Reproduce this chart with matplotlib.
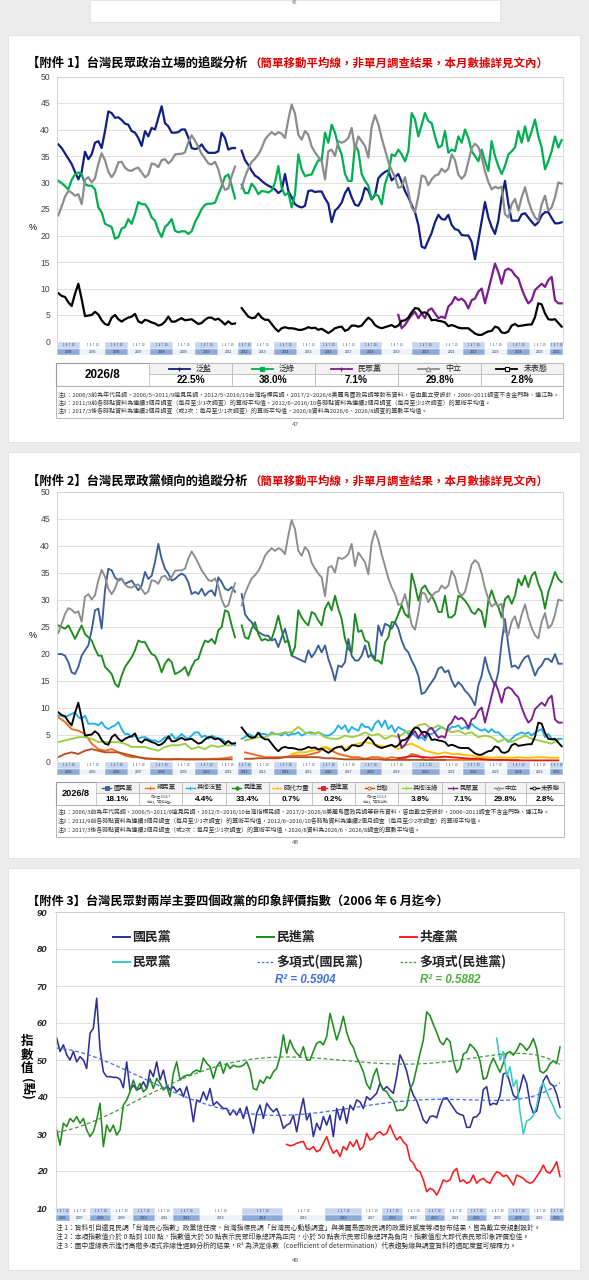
import numpy as np
import matplotlib
matplotlib.use("Agg")
import matplotlib.pyplot as plt
from matplotlib.patches import Rectangle

plt.rcParams["font.family"] = ["Noto Sans CJK TC", "DejaVu Sans"]
NUM_FONT = ["Liberation Sans", "Noto Sans CJK TC"]

nan = float("nan")

# ---------------------------------------------------------------------------
# 附件1 / 附件2: values, one per survey step (152 steps).
# nan = break between survey sources (2011 -> 2012).
# ---------------------------------------------------------------------------
BLUE_CAMP = [
    37.2, 36.5, 35.5, 34.5, 33.5, 32, 30.6, 32, 35.8, 34.4,
    35.3, 37.5, 37.8, 36.5, 39.7, 43.4, 43.1, 42.2, 42.3, 41.8,
    41.1, 40.9, 39.7, 39.4, 38.4, 36.9, 39.7, 38.7, 40.3, 40,
    42.2, 44.4, 41.2, 40.6, 39.4, 39.4, 39.5, 40, 40, 38.5,
    36.5, 36.3, 36.5, 37.2, 36.2, 35.6, 35.6, 35.6, 35.9, 39.4,
    38.4, 36.2, 36.5, 36.5, nan, 36, 34.2, 33.3, 32.2, 31.3,
    30.9, 30.3, 29.8, 29.4, 29.1, 28.7, 28, 28.5, 31.6, 28.4,
    27.2, 25.9, 25.5, 25.3, 25.6, 28.4,
    28.5, 28.2, 28.3, 28.3, 27, 26, 22.5, 24.7, 25.3, 26.2,
    28, 29, 27.2, 25.8, 25.6, 26.8, 29, 28.5, 26.8, 27.6,
    30.8, 31.5, 32, 32.3, 30.4, 31, 31.6, 30.1, 28.4, 27.2,
    25.8, 24.4, 22, 17.9, 17.6, 19.1, 20.5, 22.5, 23.9, 23.1,
    23, 23.9, 22, 21.2, 21, 20.1, 20, 20, 18.8, 15.5,
    19.1, 22.8, 26.3, 23.4, 21.6, 20.3, 22.8, 27.2, 30.3, 26,
    22.8, 22.8, 22.8, 24, 24.2, 23.4, 22.6, 21.9, 22.5, 23.8,
    24.4, 24.4, 23.3, 22.3, 22.3, 22.5,
]
GREEN_CAMP = [
    30.3, 29.9, 29.3, 28.7, 30.5, 31.5, 31.9, 31.6, 29.7, 29.4,
    29.4, 28.7, 25.3, 24.4, 22.2, 21.9, 21.6, 19.4, 19.7, 21.3,
    21.6, 23.1, 22.2, 24.1, 26.3, 25.9, 25.9, 25, 23.4, 22.8,
    20.9, 19.7, 21.6, 22.2, 23.1, 20.9, 20.6, 20.8, 20.8, 20.3,
    20.8, 22.5, 23.7, 25, 25.8, 26, 26, 26.2, 27.8, 29.3,
    31.1, 31.5, 29.4, 27, nan, 29.6, 28, 28, 29.8, 29,
    27.8, 28.4, 28.3, 28.1, 28.5, 30, 33.1, 29, 27.6, 28.1,
    25.3, 27.8, 35.3, 32.5, 31.2, 31.4,
    31.5, 33, 34.2, 34.2, 39.4, 37.5, 40.9, 39.4, 36.9, 35.3,
    31.6, 30.3, 30.3, 37.2, 35.9, 31.6, 30.3, 29.4, 26.9, 27.8,
    27.5, 25.9, 29.7, 31.6, 35.3, 35, 36.2, 35.3, 34, 35.9,
    43.1, 41.9, 38.7, 40.9, 43.1, 41.6, 41.2, 38.7, 36.6, 36.9,
    39.7, 35.6, 36.2, 35.9, 38.7, 37.5, 40, 38.4, 35.9, 35,
    34, 36.2, 34, 32.2, 37.8, 35, 33.1, 31.6, 33.1, 35.3,
    35.9, 36.6, 39.7, 37.5, 40.6, 37.8, 39.7, 41.9, 38.7, 36.6,
    32.5, 34, 35.9, 38.7, 36.6, 38,
]
NEUTRAL = [
    23.8, 25.5, 27.3, 28.4, 28.1, 27.5, 27.8, 25.9, 30.5, 31,
    30, 30.8, 33.5, 35.5, 34.2, 32, 31, 32, 33.8, 33.9,
    32.8, 32.3, 32.2, 32.6, 32.8, 31.9, 31, 31.5, 33.6, 33.4,
    32.9, 34.2, 34.4, 33.6, 34.2, 35.3, 35.4, 35.4, 35.7, 37.6,
    38.9, 37.9, 36.7, 35.4, 34.5, 33.6, 33.4, 33.9, 32.5, 30,
    28.6, 28.9, 31.2, 33, nan, 28.9, 31.1, 32.6, 33.9, 34.5,
    35.3, 36.5, 38.1, 38.9, 39.5, 39, 39.5, 39.2, 38.4, 41.9,
    44.7, 43, 39, 38.1, 39.7, 39,
    36.8, 35.7, 34.8, 34.1, 30.6, 35.9, 36.2, 35, 37.8, 37.5,
    37.8, 38.4, 40.3, 36.2, 38.7, 37.8, 36.9, 34.7, 40.5, 42.7,
    41, 38.4, 36.2, 33.9, 32.3, 31, 29, 29.2, 31, 28.3,
    25.3, 24.4, 27.4, 31.3, 31.1, 29.5, 30.6, 31.3, 31.5, 32.6,
    32, 32.6, 35.3, 34.2, 31.5, 30.7, 31.4, 33.9, 36.5, 37.3,
    36.7, 34.8, 32.1, 30.1, 28.7, 29.2, 28.9, 29.2, 24, 23.4,
    25.9, 26.9, 24.7, 27.2, 29.1, 26.6, 24.7, 23.4, 22.8, 25.9,
    27.5, 24.7, 25.3, 27.2, 30, 29.8,
]
UNDECIDED = [
    9.1, 8.6, 8.4, 7.4, 6.7, 9, 10.9, 8, 4.8, 4.9,
    5, 5.6, 5.1, 4, 3.3, 3.1, 4.5, 5, 4.2, 3.75,
    4.2, 4.5, 4.7, 5.2, 3.8, 3.5, 4.1, 3.9, 3.6, 3.4,
    3, 3.2, 3.75, 4.7, 3.75, 3.75, 4.1, 4.4, 4, 4.1,
    4.2, 3.75, 3.3, 3.5, 4.1, 4.5, 4.5, 4.1, 4.3, 3.8,
    3.2, 3.8, 3.3, 3.4, nan, 6.3, 5.5, 4.7, 4.4, 4.5,
    5.3, 4.5, 4.1, 4.1, 3.3, 2.5, 1.9, 2.5, 2.7, 2.5,
    2.5, 2.4, 2.2, 2.2, 2.4, 2.7,
    2.5, 2.6, 2.2, 2.4, 2, 1.6, 2, 2.5, 2.7, 2.8,
    2, 2.3, 3, 3, 2.8, 3, 3.8, 4.5, 4, 3.1,
    2.7, 2.5, 2.7, 2.9, 3.1, 2.7, 3, 3.9, 4, 4.5,
    5.5, 6.3, 6.2, 5.4, 5.5, 5.1, 4, 4.1, 3.9, 3.8,
    3.6, 2.9, 3.1, 2.9, 2.6, 2.5, 2.5, 2.5, 2, 1.5,
    1.25, 1.25, 1.6, 1.9, 2, 2.8, 2.6, 1.7, 1.6, 1.9,
    3, 3.3, 2.9, 3, 3.1, 3.2, 3.2, 4.6, 7.2, 7,
    5.3, 4.2, 4.1, 4.2, 3.5, 2.8,
]
TPP_START = 102
TPP = [
    5, 2.5, 3.1, 4.1, 5, 5.6, 4.4, 5.3, 4.4, 5.9,
    6.25, 5.3, 4.4, 4.7, 4.4, 6.6, 7.2, 8.4, 7.8, 8.1,
    7.5, 6.25, 7.8, 8.1, 9.4, 10, 7.2, 9.7, 12.2, 14.7,
    13.1, 10.9, 13.4, 13.75, 13.4, 12.5, 11.9, 10, 8.4, 7.2,
    7.8, 9.7, 10.3, 10.9, 10.3, 11.6, 12.2, 7.8, 7.2, 7.2,
]

# 附件2 party series (fine grid, 152 steps)
KMT = [
    19.9, 19.9, 19.6, 18.4, 16.5, 16.2, 17.5, 19.6, 20.6, 21.5,
    24.3, 28, 28.3, 24.6, 31.7, 35.7, 35.4, 34.1, 33.5, 33.8,
    32.9, 33.2, 33.5, 32.6, 31.7, 32.6, 35.1, 33.8, 34.4, 36.9,
    40.3, 37.5, 35.7, 34.8, 33.5, 33.8, 34.4, 34.8, 34.4, 33.2,
    31, 31.4, 31, 32, 30.7, 31.4, 31.7, 30.7, 34.1, 33.2,
    32, 31.7, 32.3, 31.4, nan, 31, 27.3, 26.4, 25.8, 24.6,
    24, 23.6, 23.3, 23.3, 22.4, 22.7, 21.2, 23, 24.6, 22.1,
    19.6, 19.3, 19, 18.7, 18.4, 20.6,
    19.3, 20.2, 21.5, 20.2, 21.5, 19, 17.2, 15, 17.8, 17.5,
    18.4, 22.7, 19.6, 18.7, 18.7, 19.6, 21.5, 19.3, 19.9, 19,
    25.2, 23.3, 25.5, 25.2, 24.6, 25.8, 24.6, 22.4, 20.9, 20.2,
    18.7, 17.5, 15.9, 12.5, 12.8, 13.8, 14.7, 15.6, 17.2, 17.5,
    16.5, 16.9, 15, 13.8, 14.7, 14.1, 13.1, 12.5, 11.6, 10.4,
    14.1, 15.9, 19.3, 16.9, 15.3, 14.1, 16.5, 22.1, 26.4, 21.5,
    17.5, 17.8, 17.2, 18.4, 19.3, 19.6, 17.8, 15.9, 17.2, 17.8,
    19, 19, 18.4, 19.9, 18.1, 18.1,
]
DPP = [
    25.2, 24.9, 24.6, 25.2, 24, 22.7, 24, 25.2, 23.6, 23,
    22.4, 20.9, 19.6, 19.6, 17.5, 16.9, 16.2, 14.4, 13.8, 15.9,
    17.5, 18.4, 19.3, 20.6, 22.4, 22.1, 22.1, 20.9, 19.9, 19.6,
    18.4, 16.5, 18.1, 19, 18.4, 16.2, 16.5, 16.9, 17.5, 15.9,
    17.5, 18.7, 19, 20.9, 22.4, 22.1, 22.7, 21.8, 24.3, 24.9,
    28, 27.7, 25.2, 23, nan, 25.2, 23, 22.7, 24.6, 25.8,
    23.6, 22.4, 22.7, 22.4, 22.7, 24.6, 27, 24.3, 22.1, 22.4,
    19.6, 21.2, 28, 26.7, 25.8, 25.2,
    27.7, 27.3, 26.1, 25.2, 28.3, 29.5, 28, 30.7, 28.3, 26.4,
    22.7, 20.9, 20.2, 27.3, 24, 24.3, 22.4, 22.1, 19.6, 18.7,
    18.7, 18.1, 22.1, 23, 25.8, 25.8, 27.3, 28.9, 27.3, 26.7,
    34.8, 32.6, 29.8, 32, 32.6, 31.4, 30.7, 29.5, 27.7, 27.7,
    30.7, 26.7, 26.7, 27.3, 30.7, 30.4, 29.8, 28.9, 27.7, 27.3,
    28.3, 27.7, 24.9, 29.8, 31.7, 29.8, 28.6, 26.7, 30.1, 30.7,
    29.2, 30.7, 33.8, 32.6, 34.4, 32.3, 34.4, 35.1, 32.9, 31.4,
    28.3, 31.4, 33.2, 35.1, 33.8, 33.2,
]
OTHER_BLUE = [
    8.5, 8.5, 8.2, 8.5, 8.8, 9.1, 8.2, 7.9, 8.5, 7,
    7, 7, 6.7, 7.3, 6.4, 6, 6.4, 6.7, 7.3, 6,
    5.1, 5.1, 4.5, 4.8, 4.2, 4.5, 4.5, 4.2, 3.9, 3.9,
    3.6, 3.9, 4.5, 4.2, 5.1, 4.2, 4.5, 5.1, 4.5, 4.2,
    4.8, 5.4, 5.4, 4.5, 4.8, 4.2, 4.8, 4.5, 4.2, 4.2,
    3.6, 3.6, 3.3, 3, nan, 4.2, 4.5, 5.1, 4.8, 4.5,
    5.4, 5.1, 5.1, 4.8, 5.4, 5.1, 5.1, 4.8, 5.4, 4.8,
    5.1, 5.1, 5.4, 4.8, 5.1, 5.4,
    5.4, 5.1, 5.4, 5.1, 4.8, 4.8, 5.1, 5.7, 6.7, 6,
    6.7, 5.4, 6.4, 6, 5.7, 7, 6.4, 6.4, 5.7, 7,
    7.6, 6.4, 7.6, 6, 6.7, 5.4, 6.4, 6, 5.7, 5.1,
    5.4, 4.8, 4.2, 4.5, 3.9, 5.1, 5.1, 5.4, 6, 6.4,
    6, 5.7, 6.4, 6.4, 6.7, 6, 6.4, 6, 7, 6.4,
    6, 5.7, 6, 5.4, 6, 5.4, 5.4, 4.8, 4.2, 3.6,
    4.2, 4.8, 5.1, 5.4, 5.1, 5.4, 4.8, 5.4, 5.7, 6,
    4.5, 5.1, 4.2, 3.9, 4.2, 4.2,
]
# small parties, every second survey step (76 values)
OTHER_GREEN = [
    3.6, 3.9, 4.2, 4.5, 4.5, 4.2, 3.6, 3.6, 3.6, 3.6,
    3.3, 2.7, 2.7, 2.7, 2.3, 2, 2.7, 3, 3, 3.3,
    2.3, 2.7, 2.3, 3, 2.7, 3, 3, nan, 3.9, 4.2,
    4.5, 4.5, 5.1, 5.1, 5.4, 5.4, 6.4, 5.4,
    5.1, 5.4, 4.5, 4.2, 4.2, 4.8, 4.5, 4.8, 5.4, 4.8,
    5.1, 4.2, 4.8, 4.5, 5.4, 5.7, 6.7, 7, 6, 6.7,
    6, 5.4, 5.7, 5.1, 5.4, 4.5, 4.8, 4.5, 3.6, 4.2,
    3.6, 4.2, 4.8, 4.2, 3.9, 3.6, 3.3, 3.9,
]
PFP = [
    8.2, 7.3, 6, 5.7, 5.1, 3.3, 2.3, 2, 2.3, 1.7,
    1.1, 0.8, 0.8, 0.5, 0.5, 0.5, 0.4, 0.4, 0.5, 0.4,
    0.4, 0.4, 0.4, 0.5, 0.5, 0.6, 0.8, nan, 1.7, 1.4,
    1.1, 0.8, 0.8, 0.8, 0.8, 1.1, 1.1, 1.1,
    1.4, 1.7, 2.7, 2, 1.4, 1.1, 0.8, 0.8, 0.5, 0.8,
    0.8, 0.5, 0.8, 0.6, 0.5, 1.4, 1.1, 0.3, 0.3, 0.3,
    0.3, 0.3, 0.3, 0.3, 0.3, 0.3, 0.3, 0.3, 0.3, 0.3,
    0.3, 0.3, nan, nan, nan, nan, nan, nan,
]
NPP = [nan] * 35 + [
    1.4, 1.7, 1.7,
    2, 2.3, 2.7, 2.3, 2.7, 2.3, 3, 3.3, 3.6, 3.3,
    3, 2.7, 3, 2.3, 3, 3.3, 2.7, 2, 1.7, 1.4,
    1.7, 1.4, 1.4, 1.2, 1.1, 0.8, 0.8, 0.7, 0.8, 0.7,
    0.7, 0.8, 0.7, 0.7, 0.8, 0.8, 0.7, 0.7,
]
TSP = [nan] * 51 + [
    0.6, 0.8, 1, 0.9, 0.8, 0.7, 0.8, 0.9, 0.8, 0.7,
    0.6, 0.5, 0.5, 0.4, 0.3, 0.3, 0.3, 0.2, 0.2, 0.2,
    0.2, 0.2, 0.2, 0.2, 0.2,
]
TSU = [
    0.8, 1.4, 1.7, 1.4, 2, 2.3, 2, 1.7, 1.7, 1.7,
    1.4, 1.1, 0.8, 0.6, 0.5, 0.4, 0.4, 0.4, 0.4, 0.4,
    0.4, 0.4, 0.4, 0.4, 0.4, 0.4, 0.4, nan, 0.5, 0.5,
    0.6, 0.6, 0.6, 0.6, 0.8, 0.8, 0.8, 0.8,
    0.8, 0.8, 0.6, 0.6, 0.5, 0.4, 0.4, 0.4, 0.4, 0.4,
    0.4, 0.3, 0.3, 0.3, 0.3, 0.3, 0.3, 0.3, 0.3, 0.3,
    0.3,
] + [nan] * 17

P1_NAMES = ["泛藍", "泛綠", "民眾黨", "中立", "未表態"]
P1_LATEST = [22.5, 38.0, 7.1, 29.8, 2.8]
P2_NAMES = ["國民黨", "親民黨", "其他泛藍", "民進黨", "時代力量", "基進黨",
            "台聯", "其他泛綠", "民眾黨", "中立", "未表態"]
P2_LATEST = [18.1, None, 4.4, 33.4, 0.7, 0.2, None, 3.8, 7.1, 29.8, 2.8]
P2_NOTES = {1: "統計至 2024/7\n後併入「其他泛藍」", 6: "統計至 2021/4\n後併入「其他泛綠」"}

# ---------------------------------------------------------------------------
# 附件3: impression index, 152 survey steps from 2006/6
# ---------------------------------------------------------------------------
KMT_IDX = [
    55.9, 52.3, 54.1, 51.4, 50, 52.3, 49.5, 50.9, 50, 47.7,
    57.2, 58.6, 66.7, 53, 46.8, 45.5, 45.5, 45.3, 45.3, 44.8,
    42.5, 49.5, 41.9, 43.2, 41.9, 42.3, 44.1, 42.3, 47.3, 45.5,
    49.5, 44.6, 47.3, 43.2, 41.9, 42.8, 41.4, 42.3, 40.1, 42.8,
    39.2, 33.3, 39.2, 38.7, 41.4, 39.2, 42.3, 37.8, 38.7, 37.8,
    36.9, 36.9, 35.1, 36.5, 35.1, 36.9, 34.2, 37.4, 33.8, 30.2,
    35.6, 37.8, 34.2, 38.3, 37, 36, 36.9, 34.7, 31.5, 32.4,
    32.9, 35.1, 30.6, 35.6, 39.6, 33.8, 35.6,
    29.3, 32.9, 31.1, 34.7, 32.4, 35.1, 29.3, 36.9, 33.8, 37.4,
    32.9, 37.8, 36.5, 39.2, 38.7, 36.9, 40.1, 39.2, 40.1, 41,
    43.7, 41.9, 42.8, 41.9, 41, 45.5, 51.4, 49.5, 47, 43,
    40.5, 39, 36.5, 33.8, 32.9, 34.7, 34.9, 34.4, 37.4, 39.6,
    39.8, 38.5, 37.1, 35.8, 35.3, 35, 31.8, 31.8, 34.5, 34.7,
    35.8, 42, 42.8, 37.8, 38.3, 38, 40.3, 46.2, 46.6, 43.7,
    40.5, 39.6, 42.3, 46, 43.7, 38.3, 35.6, 36.2, 40.3, 44.4,
    45.8, 43.7, 43, 40.8, 37.2,
]
DPP_IDX = [
    31.1, 27, 32.9, 32, 34.2, 33.3, 34.7, 32.9, 34.2, 31.1,
    29.3, 30.6, 33.8, 38.3, 26.6, 32.4, 30.6, 32.4, 29.7, 31.1,
    37.8, 39.2, 41.4, 44.6, 41.9, 43.7, 41.4, 42.3, 45, 42.3,
    45, 43.7, 41.9, 42.8, 40.1, 46.4, 49.5, 44.6, 45.5, 45.9,
    45.9, 46.8, 47.3, 46.8, 50.5, 49.1, 48.2, 45, 48.2, 49.5,
    46.4, 49.1, 47.7, 48.6, 48.2, 48.2, 48.6, 49.5, 47.3, 42.3,
    41.9, 44.6, 43.7, 45.5, 45, 46.8, 47.7, 50.9, 56.8, 51.8,
    55.4, 53.2, 51.8, 50.9, 53.6, 50, 50,
    52.3, 54.5, 55, 54.1, 56.3, 62.6, 59, 55.4, 58.1, 61.8,
    57.5, 54.8, 53.4, 50.7, 48.9, 46.8, 43.5, 42.1, 45.7, 47.7,
    43.7, 41.9, 41.5, 39.9, 39, 36.3, 36.5, 36.5, 37.6, 42.1,
    43.9, 47.8, 51.8, 55.4, 63, 62, 59.6, 57.5, 55, 54.1,
    55.9, 55, 49.8, 46.6, 47.7, 51.6, 52.1, 54.3, 53.4, 52.3,
    49.8, 44.8, 45.2, 48.5, 50.5, 48.6, 46.7, 49.2, 51.8, 52.3,
    51.3, 52.6, 54.5, 53.8, 52.6, 53.8, 55.8, 53, 47, 46.5,
    47.3, 49, 49.8, 49, 53.5,
]
CCP_IDX = [nan] * 69 + [
    27.2, 26.8, 27, 27.5, 27.8, 28, 26, 25.8,
    26.6, 25.2, 25.7, 27.5, 29.3, 26.6, 24.8, 25.7, 23.9, 26.6,
    25.7, 27.9, 26.6, 28.4, 25.7, 26.6, 30.2, 28.4, 28.8, 30.2,
    30.6, 29.7, 30.2, 32.4, 30.2, 28.4, 29.3, 27.9, 27, 23,
    22.1, 20.3, 19.8, 17.6, 14.4, 15.3, 14.9, 13.5, 15.3, 17.6,
    17.1, 17.6, 19.8, 20.7, 17.1, 17.6, 16.7, 17.1, 18.9, 16.7,
    17.6, 18, 17.1, 16.7, 18.5, 19.8, 19.4, 18.5, 18.9, 17.6,
    16.2, 18.9, 18.5, 18, 17.1, 16.7, 17.1, 18.5, 19.8, 21.6,
    19.8, 19.4, 20.7, 22.5, 18.5,
]
TPP_IDX = [nan] * 132 + [
    55.9, 50, 52.3, 45.5, 48.2, 42.8, 44.6, 36, 30, 33.5,
    34, 35, 37.5, 42.5, 43.8, 41.5, 39.2, 37.5, 35.2, 34.2,
]
R2_TEXT = ["R² = 0.5904", "R² = 0.5882"]

YEARS_12 = list(range(2004, 2027))
YEARS_3 = list(range(2006, 2027))

# ---------------------------------------------------------------------------
# layout (pixels of the 589 x 1280 page)
# ---------------------------------------------------------------------------
W, H = 589, 1280
STRIP12_EDGES = [57, 80, 105, 128, 150, 173, 195, 218, 238, 252, 274, 297,
                 320, 338, 360, 382, 412, 440, 463, 485, 507, 530, 550, 563]
STRIP3_EDGES = [55.5, 70, 90, 111, 133, 155, 173, 200, 242, 283, 325, 362,
                382, 403, 425, 445, 467, 487, 508, 530, 550, 563.5]

fig = plt.figure(figsize=(W / 100, H / 100), dpi=100)
fig.patch.set_facecolor("#ececec")

bg = fig.add_axes([0, 0, 1, 1])
bg.set_xlim(0, W)
bg.set_ylim(H, 0)
bg.axis("off")
for x0, y0, x1, y1 in [(90, 0, 500, 22), (8, 35, 580, 442),
                       (8, 452, 580, 858), (8, 868, 580, 1270)]:
    bg.add_patch(Rectangle((x0, y0), x1 - x0, y1 - y0, fc="white", ec="#dddddd", lw=0.5))


def px_axes(x0, y0, x1, y1):
    return fig.add_axes([x0 / W, 1 - y1 / H, (x1 - x0) / W, (y1 - y0) / H])


def style(ax, lo, hi, step, xlim):
    ax.set_xlim(*xlim)
    ax.set_ylim(lo, hi)
    ax.set_yticks(np.arange(lo, hi + 0.1, step))
    ax.set_xticks([])
    ax.grid(axis="y", color="#d9d9d9", lw=0.6)
    ax.set_axisbelow(True)
    for s in ax.spines.values():
        s.set_color("#cfcfcf")
        s.set_linewidth(0.6)
    ax.tick_params(axis="y", length=0, labelsize=6.2, pad=5, labelcolor="#404040")
    for t in ax.get_yticklabels():
        t.set_fontfamily(NUM_FONT)


x_fine = np.arange(len(BLUE_CAMP))
x_coarse = np.arange(0, len(BLUE_CAMP), 2)
tpp = np.array([nan] * TPP_START + TPP)

# ---- 附件1 ----
ax1 = px_axes(57, 76.5, 563, 341.5)
style(ax1, 0, 50, 5, (-0.4, 151.4))
P1_COLORS = ["#101f85", "#00b050", "#7b1d8c", "#8c8c8c", "#000000"]
for ys, c in zip([BLUE_CAMP, GREEN_CAMP, tpp, NEUTRAL, UNDECIDED], P1_COLORS):
    ax1.plot(x_fine, ys, color=c, lw=1.6)

# ---- 附件2 ----
ax2 = px_axes(57, 491.5, 563, 761.5)
style(ax2, 0, 50, 5, (-0.4, 151.4))
P2_COLORS = ["#3b5e9b", "#f26a21", "#22b0ec", "#1c8a1c", "#ffc000", "#e31a1c",
             "#b4501f", "#9bcd3c", "#7b1d8c", "#8c8c8c", "#000000"]
P2_SERIES = [(x_fine, KMT), (x_coarse, PFP), (x_fine, OTHER_BLUE), (x_fine, DPP),
             (x_coarse, NPP), (x_coarse, TSP), (x_coarse, TSU), (x_coarse, OTHER_GREEN),
             (x_fine, tpp), (x_fine, NEUTRAL), (x_fine, UNDECIDED)]
for (xs, ys), c in zip(P2_SERIES, P2_COLORS):
    ax2.plot(xs, ys, color=c, lw=1.35)

# ---- 附件3 ----
ax3 = px_axes(55.5, 912, 563.5, 1208)
style(ax3, 10, 90, 10, (-0.36, 152.05))
ax3.tick_params(axis="y", labelsize=6.8, pad=6, labelcolor="#222222")
for t in ax3.get_yticklabels():
    t.set_fontstyle("italic")
    t.set_fontweight("bold")
x3 = np.arange(len(KMT_IDX))
u3 = (x3 - x3.mean()) / (x3.max() - x3.min())
P3_COLORS = ["#2f2f9c", "#1f8c1f", "#ff1a1a", "#3cc8c8"]
for ys, c in zip([KMT_IDX, DPP_IDX, CCP_IDX, TPP_IDX], P3_COLORS):
    ax3.plot(x3, ys, color=c, lw=1.15)
TREND_COLORS = ["#4169e1", "#3c9a3c"]
for ys, c in zip([KMT_IDX, DPP_IDX], TREND_COLORS):
    fit = np.polyval(np.polyfit(u3, ys, 6), u3)
    ax3.plot(x3, fit, color=c, lw=0.9, ls=(0, (3, 2)))

# ---- overlay for text, tables, strips ----
ov = fig.add_axes([0, 0, 1, 1])
ov.set_xlim(0, W)
ov.set_ylim(H, 0)
ov.axis("off")
ov.patch.set_alpha(0)
ov.set_autoscale_on(False)
R = fig.canvas.get_renderer()


def fit_text(x0, x1, y, s, size, **kw):
    t = ov.text(x0, y, s, fontsize=size, ha="left", va="center", **kw)
    w = t.get_window_extent(renderer=R).width
    t.set_fontsize(size * (x1 - x0) / w)
    return t.get_fontsize()


def strip(edges, years, y0, y1):
    ym = (y0 + y1) / 2
    for yr, a, b in zip(years, edges[:-1], edges[1:]):
        even = yr % 2 == 0
        ov.add_patch(Rectangle((a, y0), b - a, ym - y0, fc="#c5d6ee" if even else "white",
                               ec="white", lw=0.3))
        ov.add_patch(Rectangle((a, ym), b - a, y1 - ym, fc="#8eaadb" if even else "#eef2f9",
                               ec="white", lw=0.3))
        ov.text((a + b) / 2, (y0 + ym) / 2, "1  4  7  10", fontsize=1.8, ha="center",
                va="center", color="#1f3864", family=NUM_FONT)
        ov.text((a + b) / 2, (ym + y1) / 2, str(yr), fontsize=2.4, ha="center",
                va="center", color="#1f3864", family=NUM_FONT)


def footnotes(lines, x0, x1, ys):
    size = fit_text(x0, x1, ys[0], lines[0], 4.2, color="#333333")
    for s, y in zip(lines[1:], ys[1:]):
        ov.text(x0, y, s, fontsize=size, ha="left", va="center", color="#333333")


RED_SUB = "（簡單移動平均線，非單月調查結果，本月數據詳見文內）"
NOTES_12 = [
    "注1：2006/3前為年代民調，2006/5~2011/9遠見民調，2012/5~2016/10台灣指標民調，"
    "2017/2~2026/{m}美麗島國政民調等發布資料，皆由戴立安設計，2006~2011調查不含金門縣、連江縣。",
    "注2：2011/9前各時點資料為連續3個月調查（每月至少1次調查）的算術平均值，"
    "2012/6~2016/10各時點資料為連續2個月調查（每月至少2次調查）的算術平均值。",
    "注3：2017/3後各時點資料為連續2個月調查（或2次：每月至少1次調查）的算術平均值，"
    "2026/8資料為2026/6、2026/8調查的算數平均值。",
]

# page 46 remnant
ov.text(295, 3, "46", fontsize=3.5, ha="center", va="center", color="#777777")

# ---- 附件1 text / table ----
fit_text(27, 247, 63, "【附件 1】台灣民眾政治立場的追蹤分析", 8.5, weight="bold")
fit_text(249, 545, 63, RED_SUB, 8.5, weight="bold", color="#e00000")
ov.text(33, 228, "%", fontsize=6.5, ha="center", va="center", family=NUM_FONT)
strip(STRIP12_EDGES, YEARS_12, 342, 355)

T1 = [56, 149, 232, 315, 398, 481, 563]
ov.add_patch(Rectangle((56, 363), 507, 23, fc="white", ec="#9a9a9a", lw=0.8))
P1_MARKERS = [("+", None), ("s", None), ("+", None), ("^", "white"), ("s", "white")]
for i, (a, b) in enumerate(zip(T1[1:-1], T1[2:])):
    ov.add_patch(Rectangle((a, 363), b - a, 11, fc="#f2f2f2", ec="#b5b5b5", lw=0.5))
    ov.add_patch(Rectangle((a, 374), b - a, 12, fc="white", ec="#b5b5b5", lw=0.5))
    cx = (a + b) / 2
    name = P1_NAMES[i]
    start = cx - (27 + len(name) * 8.05) / 2
    m, mfc = P1_MARKERS[i]
    ov.plot([start, start + 21], [368.6, 368.6], color=P1_COLORS[i], lw=1.3)
    ov.plot([start + 10.5], [368.6], marker=m, ms=3.2, color=P1_COLORS[i],
            mfc=mfc or P1_COLORS[i], mew=0.8)
    ov.text(start + 27, 368.6, name, fontsize=5.8, ha="left", va="center", color="#222222")
    ov.text(cx, 380.3, f"{P1_LATEST[i]:.1f}%", fontsize=7.3, weight="bold",
            ha="center", va="center", family=NUM_FONT)
ov.text(102.5, 375, "2026/8", fontsize=8.4, weight="bold", ha="center", va="center",
        family=NUM_FONT)
ov.add_patch(Rectangle((56, 386), 507, 32, fc="white", ec="#ababab", lw=0.6))
footnotes([NOTES_12[0].format(m=6)] + NOTES_12[1:], 58, 560, [394.5, 402.8, 411])
ov.text(295, 424, "47", fontsize=4.5, ha="center", va="center", color="#555555",
        family=NUM_FONT)

# ---- 附件2 text / table ----
fit_text(27, 247, 481, "【附件 2】台灣民眾政黨傾向的追蹤分析", 8.5, weight="bold")
fit_text(249, 545, 481, RED_SUB, 8.5, weight="bold", color="#e00000")
ov.text(33, 636, "%", fontsize=6.5, ha="center", va="center", family=NUM_FONT)
strip(STRIP12_EDGES, YEARS_12, 762, 775)

T2 = [56, 96, 139, 182, 226, 269, 312, 355, 398, 442, 485, 526, 564]
ov.add_patch(Rectangle((56, 782), 508, 23, fc="white", ec="#9a9a9a", lw=0.8))
P2_MARKERS = [("s", None), ("+", None), ("+", None), ("D", None), ("+", None), ("s", None),
              ("o", "white"), ("+", None), ("+", None), ("^", "white"), ("o", "white")]
for i, (a, b) in enumerate(zip(T2[1:-1], T2[2:])):
    ov.add_patch(Rectangle((a, 782), b - a, 11, fc="#f2f2f2", ec="#b5b5b5", lw=0.5))
    ov.add_patch(Rectangle((a, 793), b - a, 12, fc="white", ec="#b5b5b5", lw=0.5))
    cx = (a + b) / 2
    name = P2_NAMES[i]
    start = cx - (11 + len(name) * 6.4) / 2
    m, mfc = P2_MARKERS[i]
    ov.plot([start, start + 9], [787.6, 787.6], color=P2_COLORS[i], lw=1.0)
    ov.plot([start + 4.5], [787.6], marker=m, ms=2.2, color=P2_COLORS[i],
            mfc=mfc or P2_COLORS[i], mew=0.6)
    ov.text(start + 11, 787.6, name, fontsize=4.6, ha="left", va="center", color="#222222")
    if P2_LATEST[i] is None:
        ov.text(cx, 799.2, P2_NOTES[i], fontsize=2.2, ha="center", va="center",
                color="#444444", linespacing=1.3)
    else:
        ov.text(cx, 799.2, f"{P2_LATEST[i]:.1f}%", fontsize=5.9, weight="bold",
                ha="center", va="center", family=NUM_FONT)
ov.text(76, 793.5, "2026/8", fontsize=6.6, weight="bold", ha="center", va="center",
        family=NUM_FONT)
ov.add_patch(Rectangle((56, 805), 508, 31.5, fc="white", ec="#ababab", lw=0.6))
footnotes([NOTES_12[0].format(m=8)] + NOTES_12[1:], 58, 555, [812, 821, 830])
ov.text(295, 842, "48", fontsize=4.5, ha="center", va="center", color="#555555",
        family=NUM_FONT)

# ---- 附件3 text / legend ----
fit_text(27, 447, 902, "【附件 3】台灣民眾對兩岸主要四個政黨的印象評價指數（2006 年 6 月迄今）",
         8.5, weight="bold")
ov.text(27, 1055, "指\n數\n值", fontsize=9, weight="bold", ha="center", va="center",
        linespacing=1.05)
ov.text(27.5, 1089, "(點)", fontsize=9, weight="bold", ha="center", va="center",
        rotation=-90)
strip(STRIP3_EDGES, YEARS_3, 1208, 1221)

LEGEND3 = [
    ("國民黨", P3_COLORS[0], "-", 113, 937), ("民進黨", P3_COLORS[1], "-", 257, 937),
    ("共產黨", P3_COLORS[2], "-", 400, 937), ("民眾黨", P3_COLORS[3], "-", 113, 962),
    ("多項式(國民黨)", TREND_COLORS[0], "--", 257, 962),
    ("多項式(民進黨)", TREND_COLORS[1], "--", 400, 962),
]
for name, c, ls, lx, ly in LEGEND3:
    ov.plot([lx, lx + 17], [ly, ly], color=c, lw=1.4 if ls == "-" else 0.9,
            ls="-" if ls == "-" else (0, (2, 1.5)))
    ov.text(lx + 19, ly, name, fontsize=9.3, ha="left", va="center", color="#222222",
            weight="bold")
ov.text(275, 980, R2_TEXT[0], fontsize=8.3, ha="left", va="center", color="#3f6fe0",
        style="italic", weight="bold", family=NUM_FONT)
ov.text(420, 980, R2_TEXT[1], fontsize=8.3, ha="left", va="center", color="#4caf3c",
        style="italic", weight="bold", family=NUM_FONT)

NOTES_3 = [
    "注 1：資料引自遠見民調「台灣民心指數」政黨信任度、台灣指標民調「台灣民心動態調查」"
    "與美麗島國政民調的政黨好感度等項發布結果，皆為戴立安規劃設計。",
    "注 2：本項指數值介於 0 點到 100 點，指數值大於 50 點表示民眾印象總評為正向，"
    "小於 50 點表示民眾印象總評為負向，指數值愈大即代表民眾印象評價愈佳。",
    "注 3：圖中虛線表示進行高階多項式非線性迴歸分析的結果，R² 為決定係數"
    "（coefficient of determination）代表趨勢線與調查資料的適配度暨可解釋力。",
]
footnotes(NOTES_3, 56, 545, [1228, 1237, 1246])
ov.text(295, 1260, "49", fontsize=4.5, ha="center", va="center", color="#555555",
        family=NUM_FONT)

fig.savefig("out.png", dpi=100)
